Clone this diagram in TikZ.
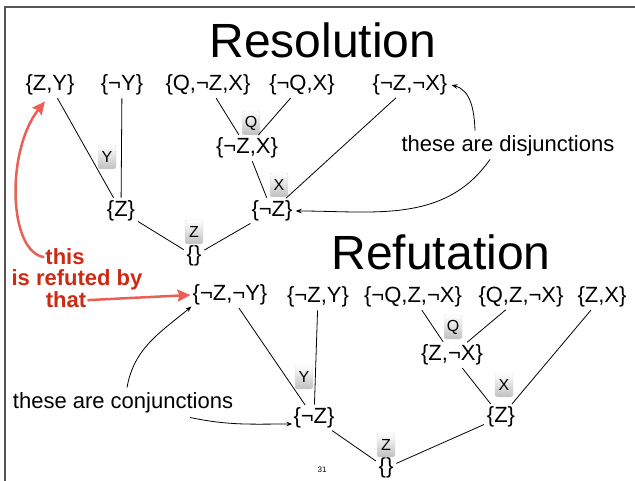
\documentclass[tikz,border=0pt]{standalone}
\usepackage{fontspec}
\setmainfont{Liberation Sans}
\usepackage{tikz}
\usetikzlibrary{arrows.meta}
\definecolor{framegray}{HTML}{555555}
\definecolor{refutered}{HTML}{CC2A14}
\definecolor{pointred}{HTML}{EC5F56}

\begin{document}
\begin{tikzpicture}[x=1pt,y=-1pt,
  clause/.style={font=\fontsize{22}{24}\selectfont, inner sep=1pt},
  lit/.style={font=\fontsize{16}{16}\selectfont, minimum width=18pt,
    minimum height=24pt, inner sep=0pt, rounded corners=2pt,
    top color=white, bottom color=gray!50, draw=gray!25},
  title/.style={font=\fontsize{48}{50}\selectfont, anchor=base},
  remark/.style={font=\fontsize{22}{24}\selectfont, inner sep=1pt},
  redtext/.style={font=\fontsize{22}{24}\selectfont\bfseries,
    text=refutered, anchor=base, inner sep=1pt},
  link/.style={line width=0.8pt, shorten <=2pt, shorten >=2pt},
  pointer/.style={line width=0.8pt, -{Stealth[length=6pt,width=4.5pt]}},
  redpointer/.style={pointred, line width=2.5pt,
    -{Stealth[length=13pt,width=12pt,inset=2pt]}}]
  \useasboundingbox (0,0) rectangle (635,481);
  \draw[framegray, line width=1.5pt] (635,7) -- (5,7) -- (5,481);

  % resolution tree
  \node[title] (restitle) at (323,58) {Resolution};
  \node[clause] (zy)   at (50,85)  {\{Z,Y\}};
  \node[clause] (ny)   at (122,85) {\{¬Y\}};
  \node[clause] (qnzx) at (208,85) {\{Q,¬Z,X\}};
  \node[clause] (nqx)  at (302,85) {\{¬Q,X\}};
  \node[clause] (nznx) at (410,85) {\{¬Z,¬X\}};
  \node[clause] (nzx)  at (247,148) {\{¬Z,X\}};
  \node[clause] (z)    at (121,211) {\{Z\}};
  \node[clause] (nz)   at (272,211) {\{¬Z\}};
  \node[clause] (none) at (194,256) {\{\}};
  \node[lit] (litq) at (251,123) {Q};
  \node[lit] (lity) at (107,157) {Y};
  \node[lit] (litx) at (279,185) {X};
  \node[lit] (litz) at (194,232) {Z};
  \draw[link] (zy) -- (z);
  \draw[link] (ny) -- (z);
  \draw[link] (qnzx) -- (nzx);
  \draw[link] (nqx) -- (nzx);
  \draw[link] (nzx) -- (nz);
  \draw[link] (nznx) -- (nz);
  \draw[link] (z) -- (none);
  \draw[link] (nz) -- (none);
  \node[remark] (dis) at (508,146) {these are disjunctions};
  \draw[pointer] ([xshift=-33pt,yshift=4pt]dis.north) to[out=92,in=-15] ([xshift=3pt]nznx.east);
  \draw[pointer] ([xshift=-18pt,yshift=-2pt]dis.south) to[out=-125,in=0] ([xshift=2pt]nz.east);

  % refutation tree
  \node[title] (reftitle) at (441,270) {Refutation};
  \node[clause] (nzny)  at (230,295) {\{¬Z,¬Y\}};
  \node[clause] (nzy)   at (318,297) {\{¬Z,Y\}};
  \node[clause] (nqznx) at (413,297) {\{¬Q,Z,¬X\}};
  \node[clause] (qznx)  at (521,297) {\{Q,Z,¬X\}};
  \node[clause] (zx)    at (602,297) {\{Z,X\}};
  \node[clause] (znx)   at (452,355) {\{Z,¬X\}};
  \node[clause] (fnz)   at (314,418) {\{¬Z\}};
  \node[clause] (fz)    at (501,417) {\{Z\}};
  \node[clause] (fnone) at (386,468) {\{\}};
  \node[lit] (flitq) at (453,327) {Q};
  \node[lit] (flity) at (304,377) {Y};
  \node[lit] (flitx) at (504,385) {X};
  \node[lit] (flitz) at (386,445) {Z};
  \draw[link] (nzny) -- (fnz);
  \draw[link] (nzy) -- (fnz);
  \draw[link] (nqznx) -- (znx);
  \draw[link] (qznx) -- (znx);
  \draw[link] (znx) -- (fz);
  \draw[link] (zx) -- (fz);
  \draw[link] (fnz) -- (fnone);
  \draw[link] (fz) -- (fnone);
  \node[remark] (con) at (123,403) {these are conjunctions};
  \draw[pointer] ([xshift=4pt,yshift=4pt]con.north) to[out=80,in=-140] (nzny.south west);
  \draw[pointer] ([xshift=67pt,yshift=-3pt]con.south) to[out=-12,in=180] ([yshift=-6pt]fnz.west);

  % red remark
  \node[redtext] (this) at (65,265) {this};
  \node[redtext] (refuted) at (77,286) {is refuted by};
  \node[redtext] (that) at (66,308) {that};
  \draw[redpointer] (this.west) .. controls (8,252) and (6,150) .. ([xshift=-5pt,yshift=-5pt]zy.south);
  \draw[redpointer] (that.east) -- ([xshift=-1pt]nzny.west);

  \node[font=\fontsize{8}{8}\selectfont] (page) at (322,470) {31};
\end{tikzpicture}
\end{document}
